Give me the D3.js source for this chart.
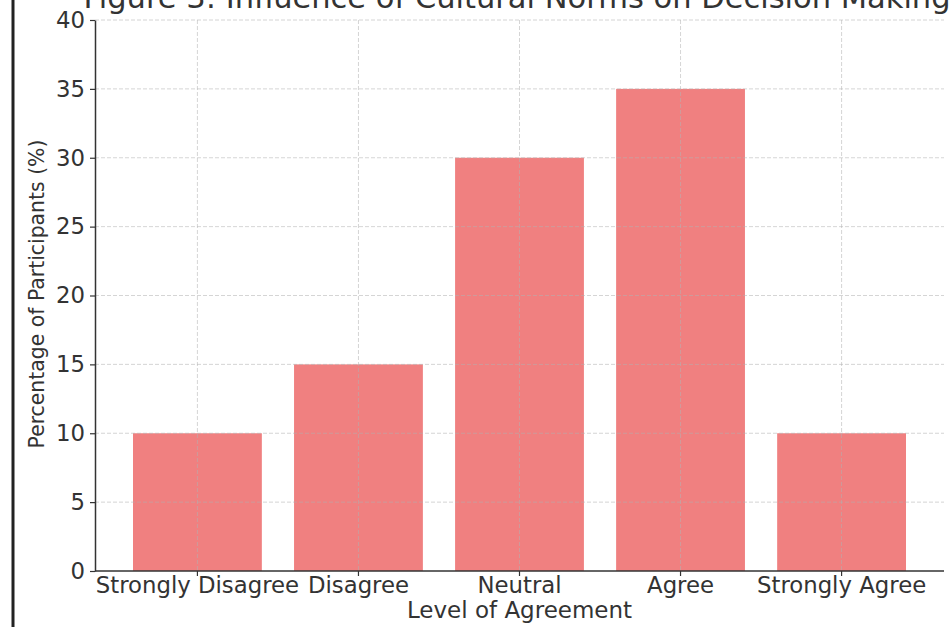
<!DOCTYPE html>
<html><head><meta charset="utf-8">
<script src="https://cdn.jsdelivr.net/npm/d3@7"></script>
<style>body{margin:0;background:#fff;} svg{display:block;font-family:"DejaVu Sans",sans-serif;}</style>
</head><body>
<svg id="c" width="952" height="627"></svg>
<script>
const categories = ["Strongly Disagree","Disagree","Neutral","Agree","Strongly Agree"];
const values = [10, 15, 30, 35, 10];
const yTicks = [0,5,10,15,20,25,30,35,40];
const title = "Figure 3: Influence of Cultural Norms on Decision Making";
const xLabel = "Level of Agreement";
const yLabel = "Percentage of Participants (%)";

const svg = d3.select("#c");
const L = 95, R = 944, T = 20, B = 571;
const x = d3.scaleBand().domain(categories).range([L, R]).paddingInner(0.2).paddingOuter(0.236);
const y = d3.scaleLinear().domain([0, 40]).range([B, T]);
const txt = "#333";

// screenshot edge line
svg.append("line").attr("x1",13).attr("x2",13).attr("y1",0).attr("y2",627)
  .attr("stroke","#222").attr("stroke-width",3);

// bars
svg.append("g").selectAll("rect").data(categories).join("rect")
  .attr("x", d => x(d)).attr("width", x.bandwidth())
  .attr("y", (d,i) => y(values[i])).attr("height", (d,i) => y(0) - y(values[i]))
  .attr("fill", "#F08080");

// grid
const grid = svg.append("g").attr("stroke","#b0b0b0").attr("stroke-opacity",0.6)
  .attr("stroke-dasharray","4,2").attr("stroke-width",0.9);
grid.selectAll(".gy").data(yTicks.slice(1)).join("line")
  .attr("x1", L).attr("x2", R).attr("y1", d => y(d)).attr("y2", d => y(d));
grid.selectAll(".gx").data(categories).join("line")
  .attr("x1", d => x(d) + x.bandwidth()/2).attr("x2", d => x(d) + x.bandwidth()/2)
  .attr("y1", T).attr("y2", B);

// axes
const xa = svg.append("g").attr("transform", `translate(0,${B})`)
  .call(d3.axisBottom(x).tickSize(5).tickPadding(1).tickSizeOuter(0));
const ya = svg.append("g").attr("transform", `translate(${L},0)`)
  .call(d3.axisLeft(y).tickValues(yTicks).tickSize(5).tickPadding(5).tickSizeOuter(0));
[xa, ya].forEach(a => {
  a.selectAll("path").attr("stroke", txt).attr("stroke-width", 1.5);
  a.selectAll("line").attr("stroke", txt).attr("stroke-width", 1.2);
  a.selectAll("text").attr("fill", txt).style("font-size","22.8px").style("font-family","DejaVu Sans");
});
xa.select(".domain").attr("d", `M${L},0H${R}`);

// labels
svg.append("text").attr("x", (L+R)/2).attr("y", 618).attr("text-anchor","middle")
  .attr("fill", txt).style("font-size","23px").text(xLabel);
svg.append("text").attr("transform", `translate(44,294) rotate(-90)`).attr("text-anchor","middle")
  .attr("fill", txt).style("font-size","20.4px").text(yLabel);
svg.append("text").attr("x", 517).attr("y", 7.5).attr("text-anchor","middle")
  .attr("fill", txt).style("font-size","30.5px").text(title);
</script>
</body></html>
